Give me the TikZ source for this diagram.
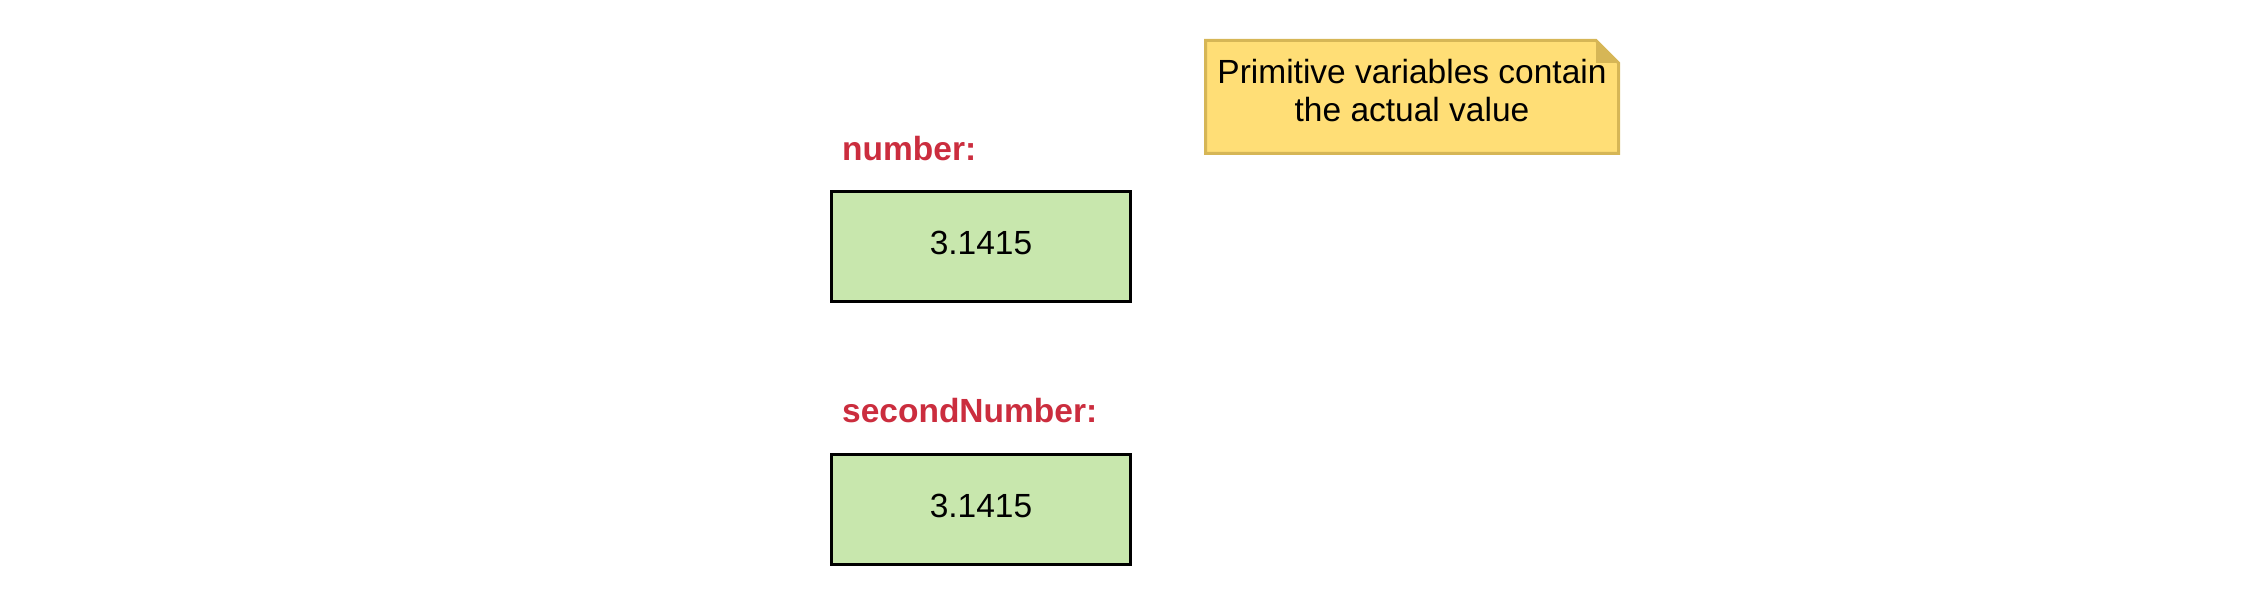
\documentclass[tikz,border=0pt]{standalone}
\usepackage{fontspec}
\setmainfont{Liberation Sans}
\definecolor{boxgreen}{RGB}{200,231,173}
\definecolor{labelred}{RGB}{203,45,62}
\definecolor{notefill}{RGB}{255,222,118}
\definecolor{notedraw}{RGB}{214,182,86}
\begin{document}
\begin{tikzpicture}[x=1pt,y=-1pt,
  varbox/.style={draw=black,line width=3.3pt,fill=boxgreen,minimum width=299pt,minimum height=110pt,inner sep=0pt,font=\fontsize{33.5}{38}\selectfont,text depth=7pt},
  varlabel/.style={anchor=base west,inner sep=0pt,text=labelred,font=\fontsize{33.5}{38}\selectfont\bfseries},
  notebox/.style={fill=notefill,draw=notedraw,line width=3pt},
  notetext/.style={anchor=base,inner sep=0pt,font=\fontsize{33.5}{38}\selectfont}]
\useasboundingbox (0,0) rectangle (2256,593);
% first variable
\node[varlabel] (l1) at (842,161) {number:};
\node[varbox] (n1) at (981,246.5) {3.1415};
% second variable
\node[varlabel] (l2) at (842,422) {secondNumber:};
\node[varbox] (n2) at (981,509.5) {3.1415};
% note
\draw[notebox] (1205.5,40.5) -- (1596,40.5) -- (1618.5,63) -- (1618.5,153.5) -- (1205.5,153.5) -- cycle;
\fill[notedraw] (1596,40.5) -- (1618.5,63) -- (1596,63) -- cycle;
\node[notetext] (t1) at (1412,84) {Primitive variables contain};
\node[notetext] (t2) at (1412,122) {the actual value};
\end{tikzpicture}
\end{document}
